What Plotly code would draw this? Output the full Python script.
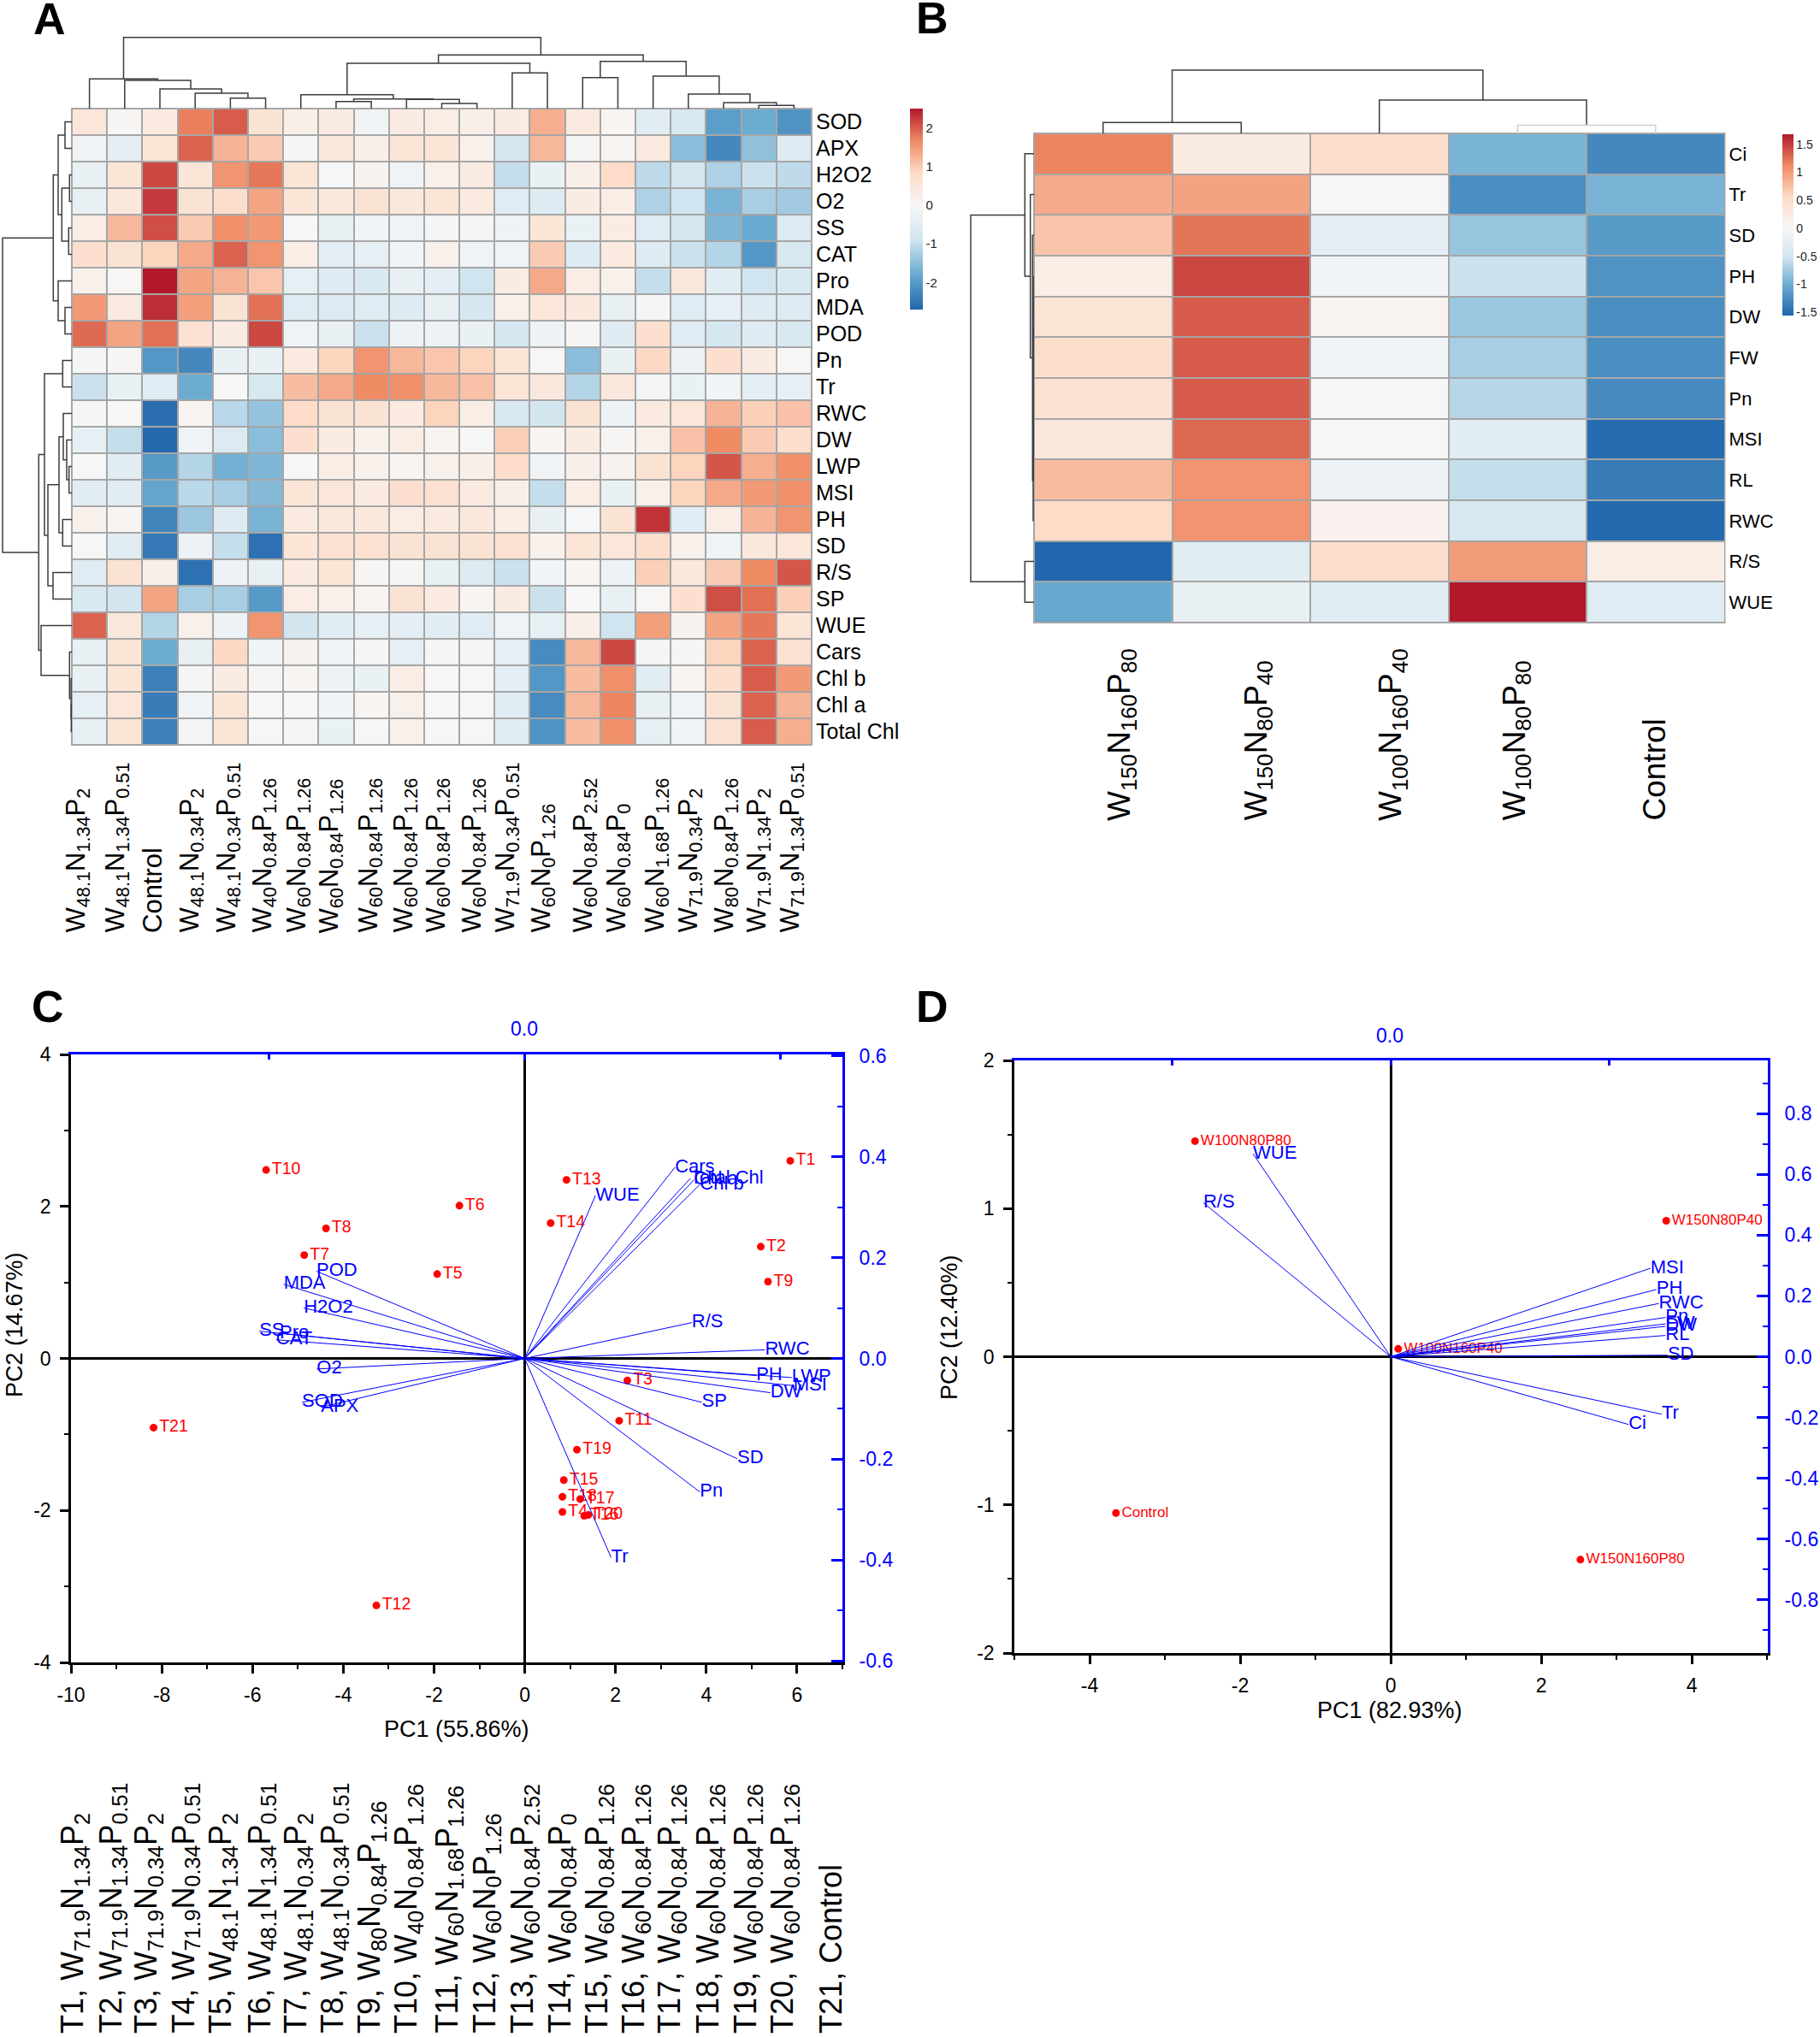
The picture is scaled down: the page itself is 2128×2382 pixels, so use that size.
import plotly.graph_objects as go

W, H = 2128, 2382
FONT = "Liberation Sans"
BLUE = "#0000FF"
RED = "#FF0000"
GRID = "#A6A6A6"
DEND = "#3C3C3C"

# ---------- Panel A ----------
A_ROWS = ["SOD", "APX", "H2O2", "O2", "SS", "CAT", "Pro", "MDA", "POD", "Pn", "Tr", "RWC", "DW", "LWP",
          "MSI", "PH", "SD", "R/S", "SP", "WUE", "Cars", "Chl b", "Chl a", "Total Chl"]
A_W = ["48.1", "48.1", None, "48.1", "48.1", "40", "60", "60", "60", "60", "60", "60", "71.9", "60", "60", "60", "60", "71.9", "80", "71.9", "71.9"]
A_N = ["1.34", "1.34", None, "0.34", "0.34", "0.84", "0.84", "0.84", "0.84", "0.84", "0.84", "0.84", "0.34", "0", "0.84", "0.84", "1.68", "0.34", "0.84", "1.34", "1.34"]
A_P = ["2", "0.51", None, "2", "0.51", "1.26", "1.26", "1.26", "1.26", "1.26", "1.26", "1.26", "0.51", "1.26", "2.52", "0", "1.26", "2", "1.26", "2", "0.51"]
A_Z = [
    [.5, .05, .4, 1.75, 2.0, .6, .25, .35, -.2, .35, .3, .25, .35, 1.3, .4, .08, -.5, -.75, -1.95, -1.75, -2.1],
    [-.2, -.45, .55, 1.95, 1.25, 1.0, -.1, .45, .25, .55, .55, .2, -.8, 1.2, .05, .1, .4, -1.5, -2.25, -1.45, -.6],
    [-.3, .55, 2.15, .55, 1.55, 1.8, .55, -.05, .15, -.2, .2, .35, -1.0, -.3, .25, .8, -1.05, -.8, -1.2, -.95, -1.05],
    [-.35, .45, 2.25, .6, .75, 1.4, .55, .45, .6, .45, .55, .4, -.55, -.6, .35, .3, -1.2, -.9, -1.65, -1.25, -1.3],
    [.3, 1.2, 2.1, 1.0, 1.6, 1.5, -.05, -.35, -.15, -.2, -.1, -.1, -.25, .55, -.3, .35, -.55, -.8, -1.6, -1.8, -.65],
    [.7, .6, .9, 1.35, 1.95, 1.55, .3, -.45, -.4, -.15, .2, -.2, -.2, 1.0, -.6, .4, -.6, -.95, -1.15, -2.05, -.75],
    [.2, .03, 2.5, 1.4, 1.25, 1.05, -.4, -.6, -.7, -.35, -.45, -.9, .35, 1.35, .3, .2, -1.0, .45, -.5, -.9, -.7],
    [1.5, .4, 2.35, 1.45, .6, 1.85, -.55, -.65, -.55, -.6, -.35, -.8, .2, .5, .45, -.35, -.1, -.55, -.4, -.6, -.6],
    [1.9, 1.4, 1.85, .65, .35, 2.15, -.2, -.35, -.95, -.25, -.25, -.3, -.8, -.25, .05, -.6, .7, -.55, -.8, -.6, -.7],
    [-.1, .05, -2.05, -2.25, -.3, -.3, .4, .9, 1.55, 1.2, 1.05, .9, .55, -.03, -1.5, -.3, .85, -.25, .7, .35, .03],
    [-.95, -.35, -.55, -1.75, .0, -.75, 1.15, 1.35, 1.65, 1.6, 1.2, 1.1, .55, .45, -1.15, .45, -.1, -.3, -.15, -.45, -.4],
    [-.1, .03, -2.6, .1, -1.1, -1.4, .8, .6, .6, .4, .9, .3, -.7, -.85, .6, -.25, .4, .5, 1.25, .95, 1.1],
    [-.4, -1.0, -2.65, -.2, -.65, -1.5, .7, .35, .2, .3, .1, .02, .95, .1, .35, .05, .2, 1.1, 1.65, 1.0, .75],
    [-.05, -.5, -2.0, -1.15, -1.7, -1.6, .02, .3, .2, .1, .2, .25, .8, -.2, .25, .15, .6, .9, 2.05, 1.3, 1.6],
    [-.5, -.5, -1.85, -1.1, -1.25, -1.55, .55, .5, .4, .7, .65, .4, .25, -1.0, .3, -.3, .2, .9, 1.35, 1.5, 1.6],
    [.2, .1, -2.3, -1.35, -.6, -1.65, .4, .45, .45, .3, .4, .45, .3, -.35, -.05, .6, 2.3, -.55, .3, 1.25, 1.55],
    [-.03, -.5, -2.45, -.25, -1.0, -2.55, .55, .65, .65, .6, .6, .6, .65, .2, .55, .5, .75, .2, -.2, .45, .5],
    [-.55, .6, .25, -2.55, -.25, -.35, .4, .55, .05, .05, -.35, -.6, -.95, -.15, .1, -.25, .95, .45, 1.0, 1.65, 2.05],
    [-.7, -.85, 1.4, -1.25, -1.25, -2.0, .3, .2, .1, .6, .4, .1, .35, -.95, .02, -.35, .03, .7, 2.1, 1.85, .95],
    [1.95, .45, -1.15, .2, -.25, 1.55, -.85, -.5, -.4, -.45, -.5, -.55, -.2, -.4, .25, -.9, 1.45, .15, 1.4, 1.8, .55],
    [-.35, .55, -1.75, -.35, .85, -.15, .15, -.15, -.1, -.4, .05, -.1, -.4, -2.2, 1.2, 2.15, -.1, .05, .9, 1.95, .65],
    [-.3, .55, -2.35, -.1, .35, .05, .1, -.25, -.3, .3, .03, -.05, -.45, -2.05, 1.15, 1.6, -.5, .1, .75, 2.0, 1.5],
    [-.4, .5, -2.4, -.15, .55, .03, .02, -.15, .1, .2, .02, -.05, -.5, -2.2, 1.2, 1.7, -.35, -.2, .6, 1.95, 1.25],
    [-.35, .55, -2.35, -.1, .55, .02, .05, -.3, -.05, .2, .03, -.05, -.5, -2.1, 1.15, 1.6, -.4, -.15, .65, 2.0, 1.3],
]
# dendrogram merges: (left, right, height); >=0 is a leaf, -(k+1) is merge k
A_TOP = [(4, 5, 12.3), (3, -1, 18), (2, -2, 23), (1, -3, 33), (0, -4, 34.7), (7, 8, 8.3), (10, 11, 6), (9, -7, 10.7),
         (-6, -8, 11.3), (6, -9, 16.3), (12, 13, 41.7), (-10, -11, 53), (14, 15, 36.3), (19, 20, 3.7), (18, -14, 7),
         (17, -15, 17), (16, -16, 38), (-13, -17, 55.3), (-12, -18, 62.7), (-5, -19, 83.3)]
A_LEFT = [(0, 1, 8), (2, 3, 2.7), (4, 5, 3.7), (-2, -3, 11.7), (-1, -4, 16), (7, 8, 8), (6, -6, 16), (-5, -7, 21.7),
          (9, 10, 10.7), (13, 14, 3.3), (12, -10, 6), (11, -11, 10), (15, 16, 10.7), (-12, -13, 15), (17, 18, 22),
          (-14, -15, 28), (-9, -16, 32), (22, 23, .7), (21, -18, .9), (20, -19, 2.7), (19, -20, 36), (-17, -21, 38.7),
          (-8, -22, 81)]

# ---------- Panel B ----------
B_ROWS = ["Ci", "Tr", "SD", "PH", "DW", "FW", "Pn", "MSI", "RL", "RWC", "R/S", "WUE"]
B_W = ["150", "150", "100", "100", None]
B_N = ["160", "80", "160", "80", None]
B_P = ["80", "40", "40", "80", None]
B_Z = [
    [1.15, .25, .5, -.95, -1.3],
    [.9, .95, -.02, -1.25, -.95],
    [.72, 1.22, -.25, -.8, -1.15],
    [.2, 1.45, -.08, -.55, -1.22],
    [.4, 1.35, .08, -.78, -1.25],
    [.5, 1.35, -.08, -.72, -1.25],
    [.45, 1.35, -.02, -.65, -1.28],
    [.3, 1.28, -.02, -.3, -1.52],
    [.78, 1.05, -.15, -.58, -1.4],
    [.55, 1.05, .12, -.42, -1.53],
    [-1.56, -.3, .5, 1.0, .2],
    [-1.05, -.2, -.3, 1.68, -.33],
]
B_TOP = [(0, 1, 12.8), (3, 4, 9.6), (2, -2, 39), (-1, -3, 74)]
B_LEFT = [(3, 4, .1), (-1, 5, .2), (-2, 6, .35), (-3, 7, .5), (-4, 8, .7), (-5, 9, 1.0), (2, -6, 1.7), (1, -7, 4.3),
          (0, -8, 10.7), (10, 11, 10.7), (-9, -10, 74)]

# ---------- Panel C ----------
T_W = ["71.9", "71.9", "71.9", "71.9", "48.1", "48.1", "48.1", "48.1", "80", "40", "60", "60", "60", "60", "60", "60", "60", "60", "60", "60", None]
T_N = ["1.34", "1.34", "0.34", "0.34", "1.34", "1.34", "0.34", "0.34", "0.84", "0.84", "1.68", "0", "0.84", "0.84", "0.84", "0.84", "0.84", "0.84", "0.84", "0.84", None]
T_P = ["2", "0.51", "2", "0.51", "2", "0.51", "2", "0.51", "1.26", "1.26", "1.26", "1.26", "2.52", "0", "1.26", "1.26", "1.26", "1.26", "1.26", "1.26", None]
C_PC1 = [5.85, 5.2, 2.26, .83, -1.93, -1.44, -4.86, -4.38, 5.36, -5.70, 2.08, -3.27, .92, .57, .86, 1.31, 1.22, .83, 1.15, 1.40, -8.18]
C_PC2 = [2.60, 1.47, -.29, -2.02, 1.11, 2.01, 1.36, 1.71, 1.01, 2.48, -.82, -3.25, 2.35, 1.78, -1.60, -2.07, -1.85, -1.82, -1.20, -2.06, -.91]
C_VARS = ["POD", "MDA", "H2O2", "SS", "Pro", "CAT", "O2", "SOD", "APX", "Cars", "Total Chl", "Chl a", "Chl b", "WUE",
          "R/S", "RWC", "PH", "LWP", "MSI", "DW", "SP", "SD", "Pn", "Tr"]
C_LX = [-.692, -.801, -.734, -.882, -.814, -.826, -.691, -.740, -.677, .499, .550, .562, .582, .235,
        .555, .798, .769, .887, .893, .816, .588, .706, .582, .287]
C_LY = [.173, .147, .100, .054, .050, .037, -.021, -.087, -.097, .379, .357, .354, .345, .323,
        .071, .017, -.034, -.038, -.054, -.068, -.087, -.199, -.265, -.395]

# ---------- Panel D ----------
D_NAMES = ["W100N80P80", "W150N80P40", "W100N160P40", "Control", "W150N160P80"]
D_PC1 = [-2.6, 3.66, .10, -3.65, 2.52]
D_PC2 = [1.455, .918, .053, -1.055, -1.37]
D_VARS = ["WUE", "R/S", "MSI", "PH", "RWC", "Pn", "FW", "DW", "RL", "SD", "Tr", "Ci"]
D_LX = [-.366, -.498, .69, .706, .712, .73, .73, .73, .73, .736, .72, .632]
D_LY = [.668, .507, .291, .221, .175, .129, .108, .10, .07, .005, -.189, -.223]

A_TICKS = [2, 1, 0, -1, -2]
B_TICKS = [1.5, 1, .5, 0, -.5, -1, -1.5]


def fx(px):
    return px / W


def fy(px):
    return 1 - px / H


def dom_x(a, b):
    return [fx(a), fx(b)]


def dom_y(a, b):
    return [fy(b), fy(a)]


def sub_label(w, n, p):
    if w is None:
        return "Control"
    return f"W<sub>{w}</sub>N<sub>{n}</sub>P<sub>{p}</sub>"


def rdbu(zmin, zmax):
    cols = ["#2166AC", "#67A9CF", "#D1E5F0", "#F7F7F7", "#FDDBC7", "#EF8A62", "#B2182B"]
    vals = [zmin, zmin * 2 / 3, zmin / 3, 0, zmax / 3, zmax * 2 / 3, zmax]
    return [[(v - zmin) / (zmax - zmin), c] for v, c in zip(vals, cols)]


def dendro(merges):
    """Return positions and heights tracing every U-link of a dendrogram."""
    pos, hgt, ps, hs = [], [], [], []

    def node(k):
        return (k, 0.0) if k >= 0 else (pos[-k - 1], hgt[-k - 1])

    for l, r, h in merges:
        pl, hl = node(l)
        pr, hr = node(r)
        ps += [pl, pl, pr, pr, None]
        hs += [hl, h, h, hr, None]
        pos.append((pl + pr) / 2)
        hgt.append(h)
    return ps, hs


fig = go.Figure()
layout = dict(width=W, height=H, autosize=False, margin=dict(l=0, r=0, t=0, b=0, pad=0, autoexpand=False), showlegend=False,
              paper_bgcolor="white", plot_bgcolor="white", font=dict(family=FONT, color="black"))
ann = []
shapes = []
HIDE = dict(visible=False, showgrid=False, zeroline=False, fixedrange=True)


def text(x, y, s, size, color="black", angle=0, xa="center", ya="middle", bold=False):
    if bold:
        s = f"<b>{s}</b>"
    ann.append(dict(x=fx(x), y=fy(y), xref="paper", yref="paper", text=s, showarrow=False, textangle=angle,
                    xanchor=xa, yanchor=ya, font=dict(family=FONT, size=size, color=color), borderpad=0, borderwidth=0))


def heat_panel(idx, Z, rows, box, zmin, zmax, top, left, top_px, left_px, bar, ticks, row_size, bar_size, light=()):
    x0, x1, y0, y1 = box
    nr, nc = len(rows), len(Z[0])
    hx, hy = f"x{idx}", f"y{idx}"
    tx, ty = f"x{idx + 1}", f"y{idx + 1}"
    lx, ly = f"x{idx + 2}", f"y{idx + 2}"
    shapes.append(dict(type="rect", xref="paper", yref="paper", x0=fx(x0 - 1), x1=fx(x1 + 1), y0=fy(y1 + 1), y1=fy(y0 - 1),
                       fillcolor=GRID, line=dict(width=0), layer="below"))
    fig.add_trace(go.Heatmap(
        z=Z, x=list(range(nc)), y=list(range(nr)), xaxis=hx, yaxis=hy, zmin=zmin, zmax=zmax, xgap=2, ygap=2,
        colorscale=rdbu(zmin, zmax), hoverinfo="skip",
        colorbar=dict(xref="paper", yref="paper", x=fx(bar[0]), xanchor="left", y=fy(bar[2]), yanchor="top",
                      len=bar[3] - bar[2], lenmode="pixels", thickness=bar[1] - bar[0], thicknessmode="pixels",
                      outlinewidth=0, xpad=0, ypad=0, ticks="", tickmode="array", tickvals=ticks,
                      ticktext=[f"{t:g}" for t in ticks], ticklabelposition="outside",
                      tickfont=dict(size=bar_size, family=FONT, color="#222222"))))
    layout[f"xaxis{idx}"] = dict(domain=dom_x(x0, x1), range=[-.5, nc - .5], anchor=hy, showticklabels=False,
                                 ticks="", showgrid=False, zeroline=False, showline=False)
    layout[f"yaxis{idx}"] = dict(domain=dom_y(y0, y1), range=[nr - .5, -.5], anchor=hx, side="right", tickmode="array",
                                 tickvals=list(range(nr)), ticktext=rows, ticks="", ticklabelstandoff=4,
                                 tickfont=dict(size=row_size, family=FONT, color="black"),
                                 showgrid=False, zeroline=False, showline=False)
    # top dendrogram
    ps, hs = dendro(top)
    keep_x, keep_y, lx_x, lx_y = [], [], [], []
    for i in range(len(top)):
        seg_x, seg_y = ps[i * 5:i * 5 + 5], hs[i * 5:i * 5 + 5]
        if i in light:
            lx_x += seg_x
            lx_y += seg_y
        else:
            keep_x += seg_x
            keep_y += seg_y
    fig.add_trace(go.Scatter(x=keep_x, y=keep_y, mode="lines", line=dict(color=DEND, width=1.5), xaxis=tx, yaxis=ty, hoverinfo="skip"))
    if light:
        fig.add_trace(go.Scatter(x=lx_x, y=lx_y, mode="lines", line=dict(color="#D0D0D0", width=1.5), xaxis=tx, yaxis=ty, hoverinfo="skip"))
    layout[f"xaxis{idx + 1}"] = dict(domain=dom_x(x0, x1), range=[-.5, nc - .5], anchor=ty, **HIDE)
    layout[f"yaxis{idx + 1}"] = dict(domain=dom_y(y0 - top_px, y0), range=[0, top_px], anchor=tx, **HIDE)
    # left dendrogram
    ps, hs = dendro(left)
    fig.add_trace(go.Scatter(x=hs, y=ps, mode="lines", line=dict(color=DEND, width=1.5), xaxis=lx, yaxis=ly, hoverinfo="skip"))
    layout[f"xaxis{idx + 2}"] = dict(domain=dom_x(x0 - left_px, x0), range=[left_px, 0], anchor=ly, **HIDE)
    layout[f"yaxis{idx + 2}"] = dict(domain=dom_y(y0, y1), range=[nr - .5, -.5], anchor=lx, **HIDE)


heat_panel(1, A_Z, A_ROWS, (84, 949, 127, 871), -2.7, 2.5, A_TOP, A_LEFT, 97, 84, (1064, 1079, 127, 362), A_TICKS, 25, 15)
heat_panel(4, B_Z, B_ROWS, (1209, 2016.5, 156, 728), -1.56, 1.68, B_TOP, B_LEFT, 96, 79, (2084, 2097, 157, 369), B_TICKS, 22, 14, light=(1,))

A_LABEL_X = [91, 137, 179, 224, 267, 309, 349, 387, 433, 474, 512, 554, 593, 635, 684, 723, 768, 807, 849, 887, 926]
for px, w, n, p in zip(A_LABEL_X, A_W, A_N, A_P):
    text(px, 1091, sub_label(w, n, p), 31, angle=-90, ya="bottom")
B_LABEL_X = [1311, 1471, 1628, 1773, 1934]
for px, w, n, p in zip(B_LABEL_X, B_W, B_N, B_P):
    text(px, 960, sub_label(w, n, p), 37, angle=-90, ya="bottom")
T_LABEL_X = [87, 131, 173, 216, 260, 305, 348, 390, 434, 477, 524, 568, 613, 656, 700, 743, 785, 830, 874, 917, 971]
for i, (px, w, n, p) in enumerate(zip(T_LABEL_X, T_W, T_N, T_P)):
    text(px, 2378, f"T{i + 1}, " + sub_label(w, n, p), 36, angle=-90, ya="bottom")


def biplot(idx, box, xr, yr, lxr, lyr, names, pc1, pc2, vars_, lx, ly, xt, yt, xminor, yminor, rt, top_t, psize, lsize):
    x0, x1, y0, y1 = box
    ax, ay, bx, by = f"x{idx}", f"y{idx}", f"x{idx + 1}", f"y{idx + 1}"
    sx, sy = [], []
    for a, b in zip(lx, ly):
        sx += [0, a, None]
        sy += [0, b, None]
    fig.add_trace(go.Scatter(x=pc1, y=pc2, mode="markers+text", text=names, textposition="middle right",
                             marker=dict(color=RED, size=9), textfont=dict(color=RED, size=psize, family=FONT),
                             xaxis=ax, yaxis=ay, hoverinfo="skip", cliponaxis=False))
    fig.add_trace(go.Scatter(x=sx, y=sy, mode="lines", line=dict(color=BLUE, width=1), xaxis=bx, yaxis=by, hoverinfo="skip"))
    fig.add_trace(go.Scatter(x=lx, y=ly, mode="text", text=vars_, textposition="middle right",
                             textfont=dict(color=BLUE, size=lsize, family=FONT), xaxis=bx, yaxis=by, hoverinfo="skip", cliponaxis=False))
    tf = dict(size=23, family=FONT, color="black")
    layout[f"xaxis{idx}"] = dict(domain=dom_x(x0, x1), range=xr, anchor=ay, side="bottom", tickmode="array", tickvals=xt,
                                 ticktext=[f"{t:g}" for t in xt], ticks="outside", ticklen=10, tickwidth=2.5, tickcolor="black",
                                 minor=dict(tickmode="linear", tick0=0, dtick=xminor, ticks="outside", ticklen=5, tickwidth=2, tickcolor="black"),
                                 tickfont=tf, showline=True, linecolor="black", linewidth=2.5, showgrid=False,
                                 zeroline=True, zerolinecolor="black", zerolinewidth=2.5, ticklabelstandoff=6)
    layout[f"yaxis{idx}"] = dict(domain=dom_y(y0, y1), range=yr, anchor=ax, side="left", tickmode="array", tickvals=yt,
                                 ticktext=[f"{t:g}" for t in yt], ticks="outside", ticklen=10, tickwidth=2.5, tickcolor="black",
                                 minor=dict(tickmode="linear", tick0=0, dtick=yminor, ticks="outside", ticklen=5, tickwidth=2, tickcolor="black"),
                                 tickfont=tf, showline=True, linecolor="black", linewidth=2.5, showgrid=False,
                                 zeroline=True, zerolinecolor="black", zerolinewidth=2.5, ticklabelstandoff=6)
    layout[f"xaxis{idx + 1}"] = dict(domain=dom_x(x0, x1), range=lxr, anchor=by, overlaying=ax, side="top", tickmode="array",
                                     tickvals=top_t, ticktext=[""] * len(top_t), ticks="inside", ticklen=6, tickwidth=2.5, tickcolor=BLUE,
                                     showline=True, linecolor=BLUE, linewidth=3, showgrid=False, zeroline=False)
    layout[f"yaxis{idx + 1}"] = dict(domain=dom_y(y0, y1), range=lyr, anchor=bx, overlaying=ay, side="right", tickmode="array",
                                     tickvals=rt, ticktext=[f"{t:.1f}" for t in rt], ticks="inside", ticklen=13, tickwidth=2.5, tickcolor=BLUE,
                                     minor=dict(tickmode="linear", tick0=0, dtick=.1, ticks="inside", ticklen=6, tickwidth=2, tickcolor=BLUE),
                                     tickfont=dict(size=23, family=FONT, color=BLUE), ticklabelstandoff=12,
                                     showline=True, linecolor=BLUE, linewidth=3, showgrid=False, zeroline=False)


C_NAMES = [f"T{i + 1}" for i in range(21)]
biplot(7, (83, 985, 1233, 1944), [-10, 7], [-4, 4], [-1.5075, 1.0555], [-.603, .603], C_NAMES, C_PC1, C_PC2, C_VARS, C_LX, C_LY,
       [-10, -8, -6, -4, -2, 0, 2, 4, 6], [-4, -2, 0, 2, 4], 1, 1, [-.6, -.4, -.2, 0, .2, .4, .6], [-.85, 0, .85], 19.5, 22)
biplot(9, (1186, 2067, 1240, 1933), [-5, 5.01], [-2, 2], [-1, 1.002], [-.975, .975], D_NAMES, D_PC1, D_PC2, D_VARS, D_LX, D_LY,
       [-4, -2, 0, 2, 4], [-2, -1, 0, 1, 2], 1, .5, [-.8, -.6, -.4, -.2, 0, .2, .4, .6, .8], [-.58, 0, .58], 17, 22)

text(613, 1203, "0.0", 23, BLUE)
text(1625, 1211, "0.0", 23, BLUE)
text(534, 2022, "PC1 (55.86%)", 27)
text(1625, 2000, "PC1 (82.93%)", 27)
text(17, 1549, "PC2 (14.67%)", 27, angle=-90)
text(1110, 1552, "PC2 (12.40%)", 27, angle=-90)
for s, x, y in [("A", 58, 22), ("B", 1090, 21), ("C", 56, 1177), ("D", 1090, 1177)]:
    text(x, y, s, 52, bold=True)

layout["annotations"] = ann
layout["shapes"] = shapes
fig.update_layout(**layout)
fig.write_html("out.html", config={"displayModeBar": False},
               post_script="document.body.style.margin='0';document.body.style.overflow='hidden';")
